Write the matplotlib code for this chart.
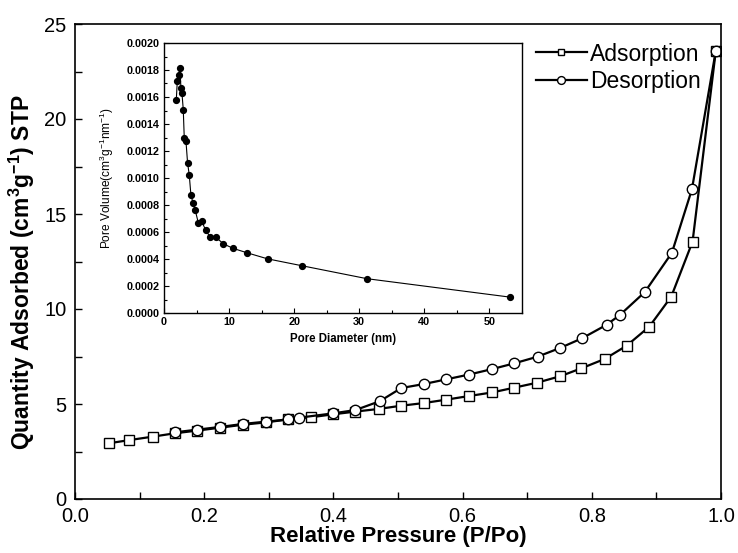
import matplotlib
matplotlib.use("Agg")
import matplotlib.pyplot as plt
from matplotlib.ticker import MultipleLocator, FormatStrFormatter

plt.rcParams['font.family'] = ['Liberation Sans', 'DejaVu Sans']
plt.rcParams['mathtext.fontset'] = 'custom'
plt.rcParams['mathtext.rm'] = 'Liberation Sans'
plt.rcParams['mathtext.bf'] = 'Liberation Sans:bold'

# Adsorption branch
ads_p = [0.052, 0.084, 0.120, 0.155, 0.189, 0.224, 0.260, 0.295, 0.330, 0.365,
         0.400, 0.434, 0.470, 0.505, 0.540, 0.575, 0.610, 0.646, 0.680, 0.715,
         0.751, 0.784, 0.820, 0.854, 0.889, 0.923, 0.956, 0.992]
ads_q = [2.93, 3.10, 3.28, 3.46, 3.60, 3.75, 3.91, 4.03, 4.19, 4.30,
         4.46, 4.60, 4.74, 4.91, 5.05, 5.23, 5.42, 5.61, 5.86, 6.12,
         6.46, 6.88, 7.37, 8.07, 9.07, 10.65, 13.55, 23.6]

# Desorption branch
des_p = [0.155, 0.189, 0.224, 0.260, 0.295, 0.330, 0.347, 0.400, 0.434, 0.472,
         0.505, 0.540, 0.575, 0.610, 0.646, 0.680, 0.716, 0.751, 0.785, 0.823,
         0.844, 0.882, 0.924, 0.955, 0.992]
des_q = [3.51, 3.65, 3.79, 3.95, 4.07, 4.19, 4.28, 4.51, 4.68, 5.15,
         5.84, 6.05, 6.30, 6.55, 6.84, 7.14, 7.49, 7.95, 8.46, 9.17,
         9.70, 10.89, 12.96, 16.3, 23.6]

# Pore size distribution (inset)
pore_d = [1.89, 2.04, 2.24, 2.45, 2.60, 2.76, 2.96, 3.11, 3.37, 3.62,
          3.88, 4.13, 4.44, 4.80, 5.26, 5.77, 6.38, 7.09, 7.96, 9.13,
          10.66, 12.76, 15.92, 21.2, 31.2, 53.1]
pore_v = [0.001579, 0.001717, 0.001761, 0.001813, 0.001667, 0.001628, 0.001507,
          0.001300, 0.001276, 0.001113, 0.001022, 0.000877, 0.000818, 0.000761,
          0.000670, 0.000682, 0.000616, 0.000562, 0.000562, 0.000512, 0.000478,
          0.000446, 0.000401, 0.000350, 0.000254, 0.000118]

fig = plt.figure(figsize=(7.38, 5.53), dpi=100)
ax = fig.add_axes([75/738, 1-499/553, (721-75)/738, (499-24)/553])

ax.plot(ads_p, ads_q, '-', color='black', lw=1.6, marker='s', ms=6.5,
        mfc='white', mec='black', mew=1.0, label='Adsorption')
ax.plot(des_p, des_q, '-', color='black', lw=1.6, marker='o', ms=7.5,
        mfc='white', mec='black', mew=1.0, label='Desorption')

ax.set_xlim(0.0, 1.0)
ax.set_ylim(0, 25)
ax.xaxis.set_major_locator(MultipleLocator(0.2))
ax.xaxis.set_minor_locator(MultipleLocator(0.1))
ax.yaxis.set_major_locator(MultipleLocator(5))
ax.yaxis.set_minor_locator(MultipleLocator(2.5))
ax.xaxis.set_major_formatter(FormatStrFormatter('%.1f'))
ax.tick_params(axis='both', which='both', direction='in', top=False, right=False,
               labelsize=14.5, width=1.0, pad=6)
ax.tick_params(which='major', length=5)
ax.tick_params(which='minor', length=5)
for s in ax.spines.values():
    s.set_linewidth(1.2)

ax.set_xlabel('Relative Pressure (P/Po)', fontsize=16, fontweight='bold', labelpad=0)
ax.set_ylabel(r'Quantity Adsorbed (cm$^\mathbf{3}$g$^\mathbf{-1}$) STP',
              fontsize=16.5, fontweight='bold', labelpad=5)
ax.yaxis.label.set_y(0.478)

leg = ax.legend(loc='upper right', bbox_to_anchor=(0.99, 0.99), frameon=False,
                fontsize=16.5, handlelength=2.2, handletextpad=0.15,
                labelspacing=0.2, borderaxespad=0.2, markerscale=0.75)

# Inset
ins = fig.add_axes([164/738, 1-313/553, (522-164)/738, (313-43)/553])
ins.plot(pore_d, pore_v, '-', color='black', lw=0.8, marker='o', ms=4.2,
         mfc='black', mec='black')
ins.set_xlim(0, 55)
ins.set_ylim(0, 0.0020)
ins.xaxis.set_major_locator(MultipleLocator(10))
ins.xaxis.set_minor_locator(MultipleLocator(5))
ins.yaxis.set_major_locator(MultipleLocator(0.0002))
ins.yaxis.set_minor_locator(MultipleLocator(0.0001))
ins.yaxis.set_major_formatter(FormatStrFormatter('%.4f'))
ins.tick_params(axis='both', which='both', direction='in', top=False, right=False,
                labelsize=7.8, width=0.8, pad=3)
ins.tick_params(which='major', length=3.5)
ins.tick_params(which='minor', length=2)
for lab in ins.get_xticklabels() + ins.get_yticklabels():
    lab.set_fontweight('bold')
for s in ins.spines.values():
    s.set_linewidth(1.0)
ins.set_xlabel('Pore Diameter (nm)', fontsize=8.3, fontweight='bold', labelpad=4)
ins.set_ylabel(r'Pore Volume(cm$^3$g$^{-1}$nm$^{-1}$)', fontsize=8.6, labelpad=8)

fig.savefig('out.png', dpi=100)
